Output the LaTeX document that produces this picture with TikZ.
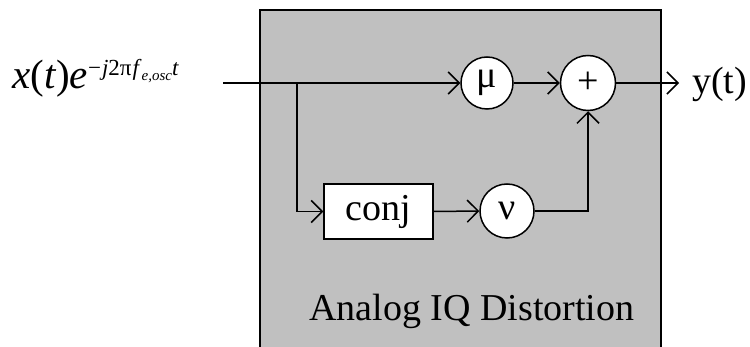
\documentclass[tikz,border=0pt]{standalone}
\usepackage{fontspec}
\setmainfont{Liberation Serif}
\usetikzlibrary{arrows.meta}
\tikzset{
  wire/.style={line width=1.5pt},
  arr/.style={wire,-{Straight Barb[length=11pt,width=22pt,line width=1.5pt]}},
  circ/.style={circle,draw,fill=white,line width=1.5pt,minimum size=#1,inner sep=0pt},
  blk/.style={rectangle,draw,fill=white,line width=1.5pt,inner sep=0pt},
  lbl/.style={font=\fontsize{38}{44}\selectfont,inner sep=0pt}
}
\begin{document}
\begin{tikzpicture}[x=1pt,y=-1pt]
\useasboundingbox (0,0) rectangle (750,347);
\fill[white] (0,0) rectangle (750,347);
% gray box
\draw[fill={rgb,255:red,192;green,192;blue,192},line width=1.5pt] (260,10) rectangle (661,360);
\node[lbl] (title) at (472,311) {Analog IQ Distortion};
% nodes
\node[circ=52pt,lbl] (mu) at (487,83) {μ};
\node[circ=55pt,lbl] (plus) at (588,83) {+};
\node[circ=54pt,lbl] (nu) at (507,211) {ν};
\node[blk,minimum width=109pt,minimum height=55pt,lbl,draw] (conj) at (378.5,211.5) {conj};
\coordinate (in) at (223,83);
\coordinate (br) at (297,83);
\coordinate (out) at (679,83);
% labels
\node[anchor=west,inner sep=0pt,font=\fontsize{41}{46}\selectfont] (xin) at (12,78)
  {\textit{x}(\textit{t})\textit{e}\raisebox{13pt}{\fontsize{23}{26}\selectfont −\kern1pt\textit{j}2π\kern1pt\textit{f}\raisebox{-5pt}{\fontsize{15}{18}\selectfont\textit{e,osc}}\textit{t}}};
\node[lbl,anchor=west] (yout) at (692,84) {y(t)};
% connectors
\draw[arr] (in) -- (mu.west);
\draw[arr] (br) |- (conj.west);
\draw[arr] (conj.east) -- (nu.west);
\draw[arr] (mu.east) -- (plus.west);
\draw[arr] (nu.east) -| (plus.south);
\draw[arr] (plus.east) -- (out);
\end{tikzpicture}
\end{document}
